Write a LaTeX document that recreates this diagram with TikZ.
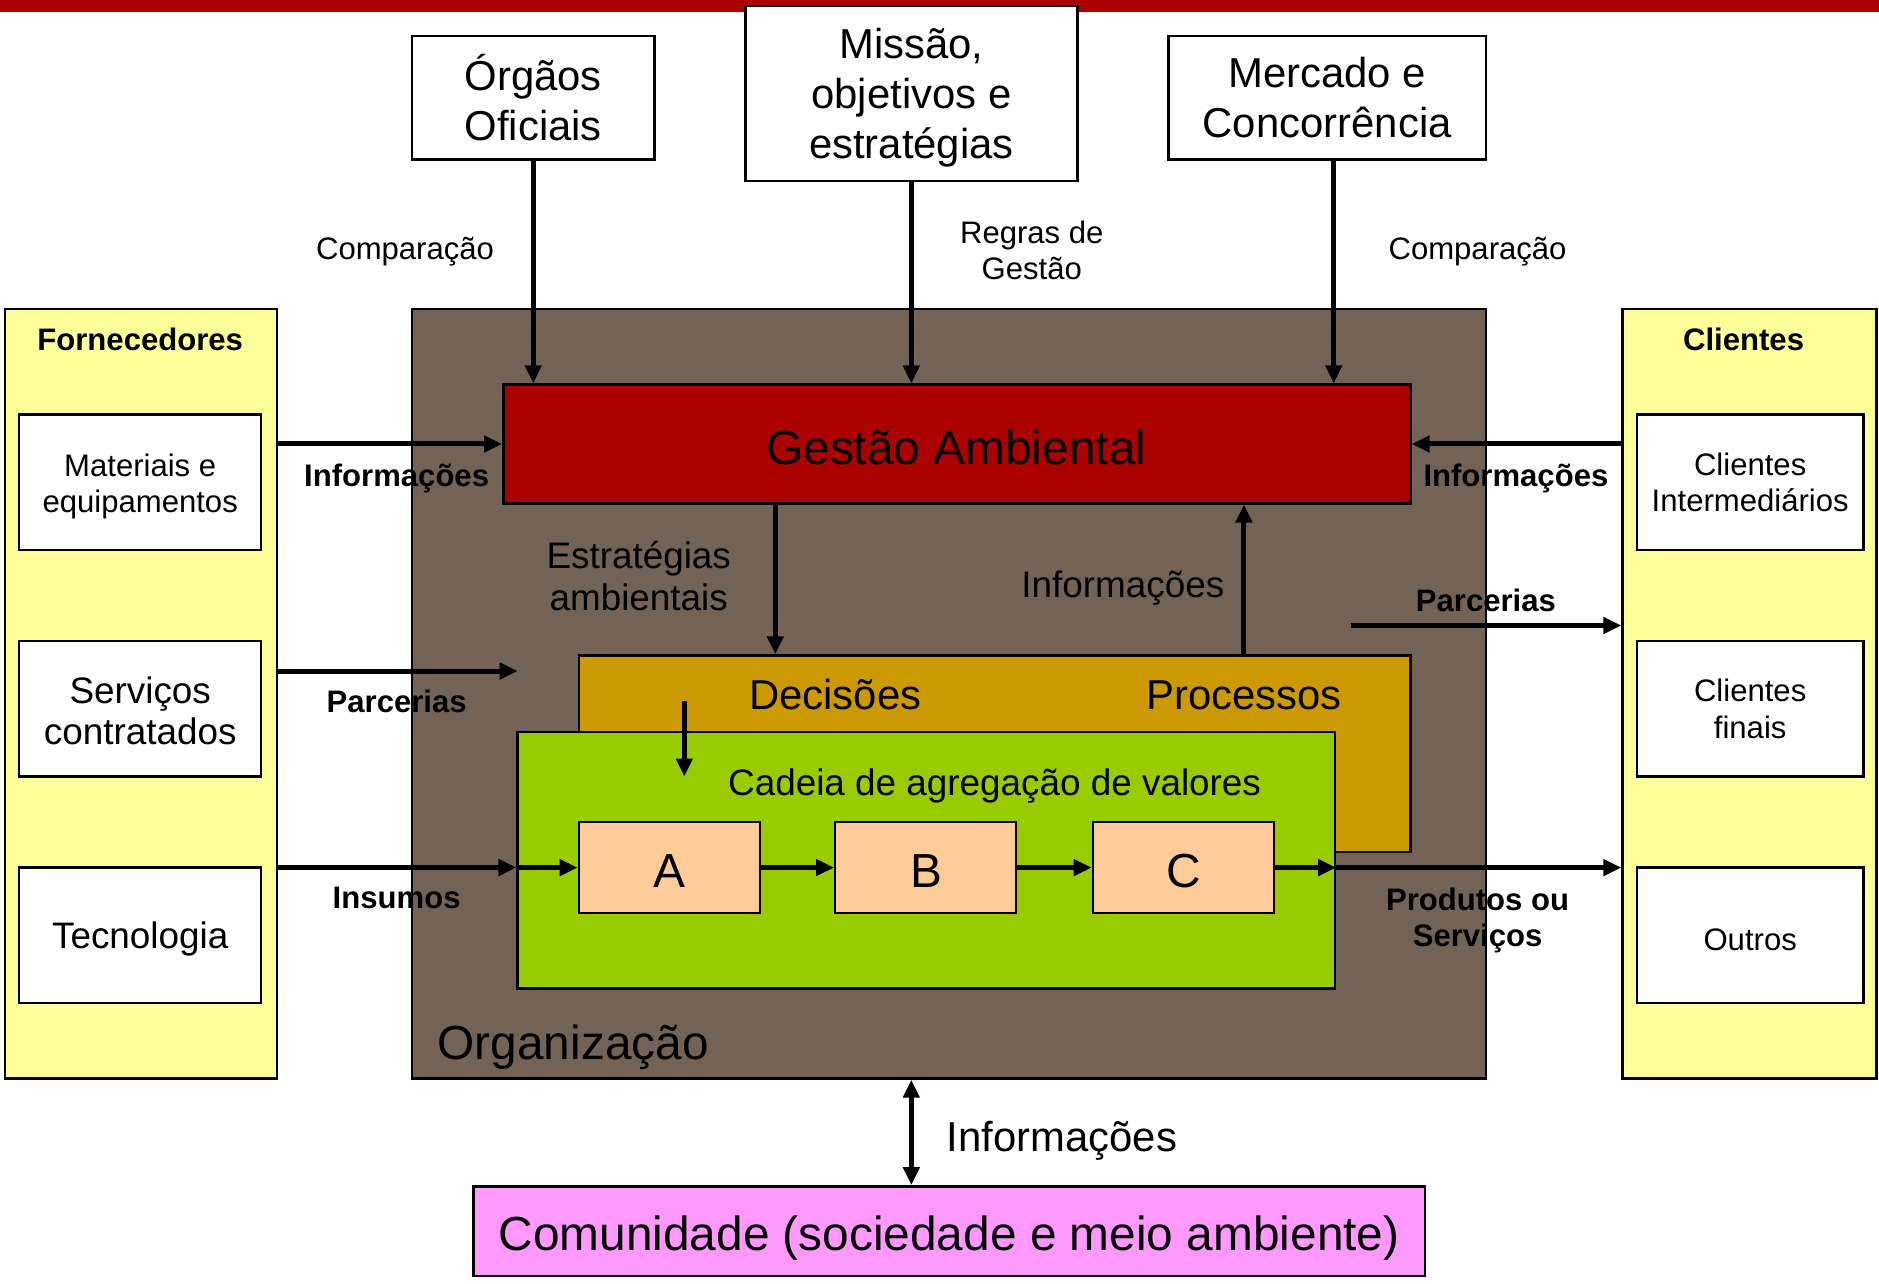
\documentclass[tikz,border=0pt]{standalone}
\usepackage{fontspec}
\setmainfont{Liberation Sans}
\usetikzlibrary{fit,arrows.meta}
\definecolor{topred}{RGB}{170,0,0}
\definecolor{gred}{RGB}{170,0,0}
\definecolor{orgbrown}{RGB}{115,98,86}
\definecolor{decor}{RGB}{204,153,0}
\definecolor{cadgreen}{RGB}{153,204,0}
\definecolor{peach}{RGB}{255,204,153}
\definecolor{pinkbox}{RGB}{255,153,255}
\definecolor{paleyel}{RGB}{255,255,153}
\newcommand{\fA}{\fontsize{31.2}{36.5}\selectfont}
\newcommand{\fB}{\fontsize{37}{42}\selectfont}
\newcommand{\fC}{\fontsize{42}{50}\selectfont}
\newcommand{\fD}{\fontsize{48}{56}\selectfont}
\begin{document}
\begin{tikzpicture}[x=1.1983bp, y=-1.1983bp,
  box/.style={draw=black, line width=2.4bp, inner sep=0pt},
  lbl/.style={inner sep=0pt, align=center},
  dn/.style={yshift=-4bp},
  arr/.style={line width=5bp, -{Triangle[length=18bp,width=16bp]}},
  darr/.style={line width=5bp, {Triangle[length=18bp,width=16bp]}-{Triangle[length=18bp,width=16bp]}}]
\useasboundingbox (0,0) rectangle (1568,1071);
\fill[white] (0,0) rectangle (1568,1071);
\fill[topred] (0,0) rectangle (1568,10.4);

% top boxes
\node[box, fill=white, fit={(344,30) (546,133)}] (orgaos) {};
\node[lbl, font=\fC] (orgaost) at (orgaos.center) {Órgãos\\Oficiais};
\node[box, fill=white, fit={(622,5) (899,151)}] (missao) {};
\node[lbl, font=\fC, dn] (missaot) at (missao.center) {Missão,\\objetivos e\\estratégias};
\node[box, fill=white, fit={(975,30) (1240,133)}] (mercado) {};
\node[lbl, font=\fC] (mercadot) at (mercado.center) {Mercado e\\Concorrência};

% side panels
\node[box, fill=paleyel, fit={(4,258) (231,900)}] (forn) {};
\node[box, fill=paleyel, fit={(1354,258) (1566,900)}] (cli) {};
\node[lbl, font=\fA\bfseries] (fornt) at (117,283) {Fornecedores};
\node[lbl, font=\fA\bfseries] (clit) at (1455,283) {Clientes};
\node[box, fill=white, fit={(16,346) (218,459)}] (mat) {};
\node[lbl, font=\fA, dn] (matt) at (mat.center) {Materiais e\\equipamentos};
\node[box, fill=white, fit={(16,535) (218,648)}] (serv) {};
\node[lbl, font=\fB, yshift=-2bp] (servt) at (serv.center) {Serviços\\contratados};
\node[box, fill=white, fit={(16,724) (218,837)}] (tec) {};
\node[lbl, font=\fB, dn] (tect) at (tec.center) {Tecnologia};
\node[box, fill=white, fit={(1366,346) (1555,459)}] (cint) {};
\node[lbl, font=\fA] (cintt) at (cint.center) {Clientes\\Intermediários};
\node[box, fill=white, fit={(1366,535) (1555,648)}] (cfin) {};
\node[lbl, font=\fA] (cfint) at (cfin.center) {Clientes\\finais};
\node[box, fill=white, fit={(1366,724) (1555,837)}] (outros) {};
\node[lbl, font=\fA, dn] (outrost) at (outros.center) {Outros};

% organization
\node[box, fill=orgbrown, fit={(344,258) (1240,900)}] (orgz) {};
\node[lbl, font=\fD, anchor=base west] (orgzt) at (365,884) {Organização};
\node[box, fill=gred, fit={(420,321) (1177,420)}] (gest) {};
\node[lbl, font=\fD] (gestt) at (798,373) {Gestão Ambiental};
\node[box, fill=decor, fit={(483,547) (1177,711)}] (dec) {};
\node[lbl, font=\fC] (dect) at (697,580) {Decisões};
\node[lbl, font=\fC] (proct) at (1038,580) {Processos};
\node[box, fill=cadgreen, fit={(432,611) (1114,825)}] (cad) {};
\node[lbl, font=\fB] (cadt) at (830,656) {Cadeia de agregação de valores};
\node[box, fill=peach, fit={(483,686) (634,762)}] (A) {};
\node[lbl, font=\fD] (At) at (559,727) {A};
\node[box, fill=peach, fit={(697,686) (848,762)}] (B) {};
\node[lbl, font=\fD] (Bt) at (773,727) {B};
\node[box, fill=peach, fit={(912,686) (1063,762)}] (C) {};
\node[lbl, font=\fD] (Ct) at (988,727) {C};

% community
\node[box, fill=pinkbox, fit={(395,990) (1189,1065)}] (com) {};
\node[lbl, font=\fD] (comt) at (792,1033) {Comunidade (sociedade e meio ambiente)};

% coordinates
\coordinate (pl) at (432,560);
\coordinate (pr0) at (1127,522);
\coordinate (d1) at (571,585);
\coordinate (d2) at (571,648);
\coordinate (xm) at (1113,0);
\coordinate (xe) at (647,0);
\coordinate (xp) at (1038,0);
\coordinate (yp) at (0,522);

% arrows top
\draw[arr] (orgaos.south) -- (orgaos.south |- gest.north);
\draw[arr] (missao.south) -- (missao.south |- gest.north);
\draw[arr] (mercado.south -| xm) -- (gest.north -| xm);
% left arrows
\draw[arr] (forn.east |- gest.west) -- (gest.west);
\draw[arr] (forn.east |- pl) -- (pl);
\draw[arr] (forn.east |- A.west) -- (cad.west |- A.west);
\draw[arr] (cad.west |- A.west) -- (A.west);
\draw[arr] (A.east) -- (B.west);
\draw[arr] (B.east) -- (C.west);
\draw[arr] (C.east) -- (cad.east |- C.east);
\draw[arr] (cad.east |- C.east) -- (cli.west |- C.east);
% right arrows
\draw[arr] (cli.west |- gest.east) -- (gest.east);
\draw[arr] (pr0) -- (cli.west |- yp);
% internal
\draw[arr] (gest.south -| xe) -- (dec.north -| xe);
\draw[arr] (dec.north -| xp) -- (gest.south -| xp);
\draw[arr] (d1) -- (d2);
\draw[darr] (orgz.south -| missao.south) -- (com.north -| missao.south);

% labels
\node[lbl, font=\fA] (cmp1) at (338,210) {Comparação};
\node[lbl, font=\fA] (regras) at (861,209) {Regras de\\Gestão};
\node[lbl, font=\fA] (cmp2) at (1233,210) {Comparação};
\node[lbl, font=\fA\bfseries] (inf1) at (331,399) {Informações};
\node[lbl, font=\fA\bfseries] (par1) at (331,585) {Parcerias};
\node[lbl, font=\fA\bfseries] (ins) at (331,749) {Insumos};
\node[lbl, font=\fA\bfseries] (inf2) at (1265,399) {Informações};
\node[lbl, font=\fA\bfseries] (par2) at (1240,501) {Parcerias};
\node[lbl, font=\fA\bfseries] (prod) at (1233,768) {Produtos ou\\Serviços};
\node[lbl, font=\fB] (estr) at (533,481) {Estratégias\\ambientais};
\node[lbl, font=\fB] (inf3) at (937,491) {Informações};
\node[lbl, font=\fC, anchor=west] (inf4) at (790,952) {Informações};
\end{tikzpicture}
\end{document}
